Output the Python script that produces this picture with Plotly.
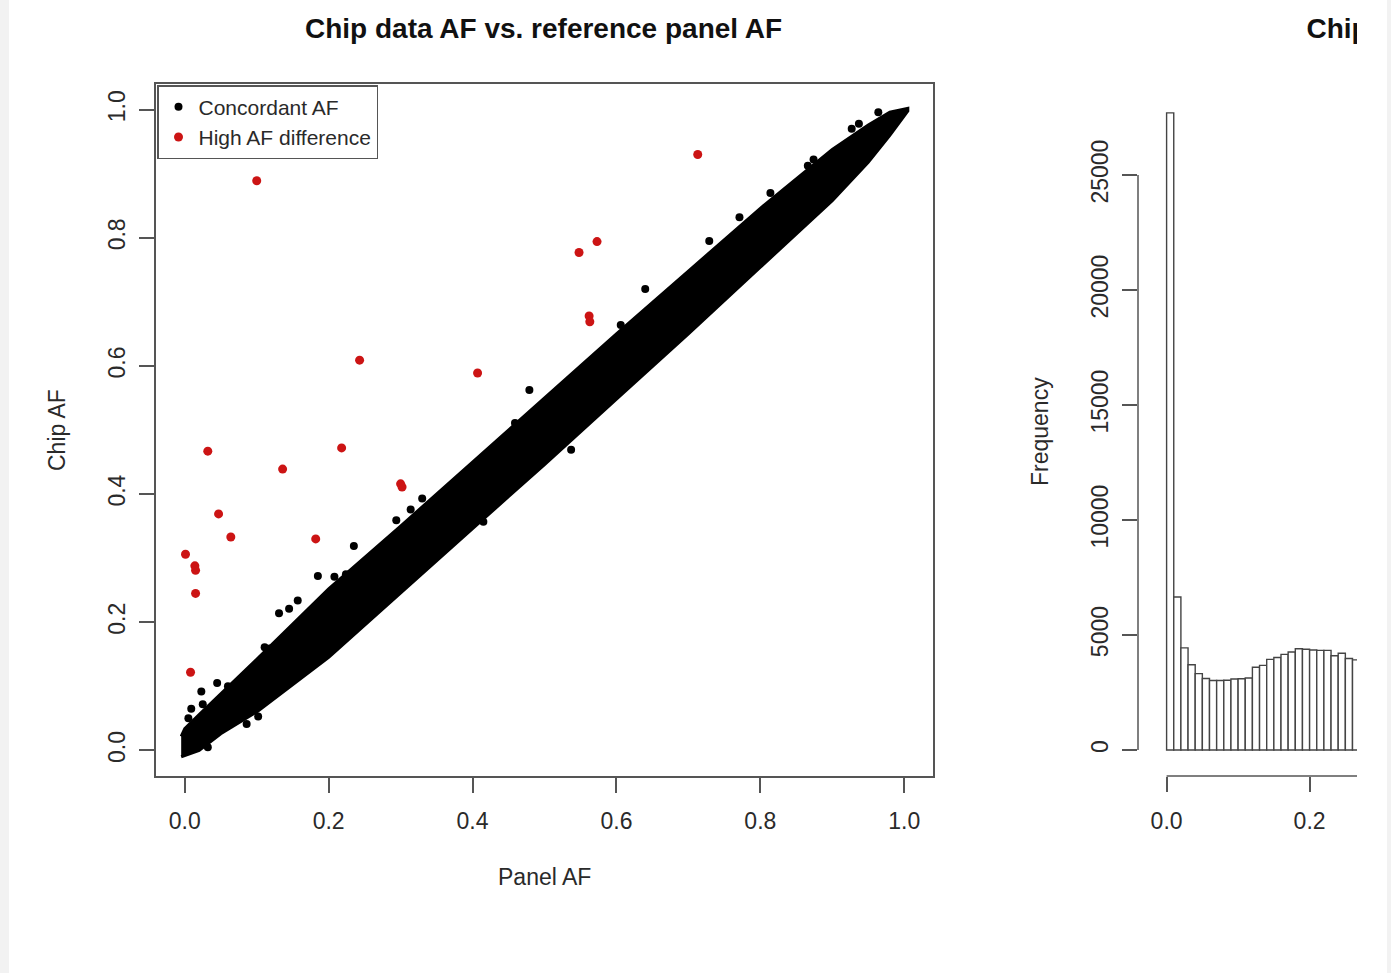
import plotly.graph_objects as go

W, H = 1391, 973

# ---- values ----
# dense "concordant" band along the diagonal: outline (upper edge, lower edge)
band_x = [-0.005, 0.0, 0.02, 0.05, 0.10, 0.20, 0.30, 0.40, 0.50, 0.60, 0.70, 0.80, 0.90, 0.95, 0.98, 1.005]
band_hi = [0.022, 0.034, 0.056, 0.088, 0.142, 0.252, 0.350, 0.450, 0.550, 0.650, 0.748, 0.846, 0.938, 0.976, 0.996, 1.002]
band_lo = [-0.010, -0.009, 0.000, 0.026, 0.060, 0.145, 0.246, 0.346, 0.446, 0.548, 0.650, 0.754, 0.858, 0.918, 0.960, 0.998]

# scattered concordant points outside the dense band
conc_x = [0.330, 0.314, 0.294, 0.235, 0.185, 0.208, 0.224, 0.157, 0.145, 0.131, 0.111, 0.118,
          0.045, 0.060, 0.023, 0.025, 0.009, 0.005, 0.086, 0.102, 0.032, 0.964, 0.927, 0.937,
          0.874, 0.866, 0.814, 0.771, 0.729, 0.640, 0.606, 0.479, 0.459, 0.537, 0.415]
conc_y = [0.393, 0.376, 0.359, 0.319, 0.272, 0.271, 0.275, 0.234, 0.221, 0.214, 0.161, 0.159,
          0.105, 0.100, 0.092, 0.072, 0.065, 0.050, 0.041, 0.053, 0.005, 0.996, 0.970, 0.978,
          0.922, 0.9125, 0.870, 0.832, 0.795, 0.720, 0.664, 0.5625, 0.511, 0.469, 0.357]

# high AF difference points
diff_x = [0.100, 0.713, 0.548, 0.573, 0.562, 0.563, 0.243, 0.407, 0.032, 0.136, 0.218,
          0.300, 0.302, 0.047, 0.064, 0.182, 0.001, 0.014, 0.015, 0.015, 0.008]
diff_y = [0.889, 0.930, 0.777, 0.794, 0.678, 0.669, 0.609, 0.589, 0.467, 0.439, 0.472,
          0.416, 0.411, 0.369, 0.333, 0.330, 0.306, 0.288, 0.281, 0.245, 0.122]

# histogram of chip AF (visible part, 0.01 wide bins)
bin_left = [0.00, 0.01, 0.02, 0.03, 0.04, 0.05, 0.06, 0.07, 0.08, 0.09, 0.10, 0.11, 0.12, 0.13,
            0.14, 0.15, 0.16, 0.17, 0.18, 0.19, 0.20, 0.21, 0.22, 0.23, 0.24, 0.25, 0.26]
counts = [27700, 6650, 4440, 3710, 3320, 3110, 3020, 3020, 3030, 3090, 3100, 3130, 3600, 3680,
          3940, 4020, 4160, 4260, 4400, 4380, 4350, 4330, 4330, 4100, 4210, 3980, 3920]

xticks = [0, 0.2, 0.4, 0.6, 0.8, 1.0]
xtick_text = ["0.0", "0.2", "0.4", "0.6", "0.8", "1.0"]
freq_ticks = [0, 5000, 10000, 15000, 20000, 25000]
freq_text = ["0", "5000", "10000", "15000", "20000", "25000"]

FONT = "Liberation Sans, Arial, sans-serif"
AX = "#555555"
TXT = "#2a2a2a"


def px(x):
    return x / W


def py(y):
    return 1 - y / H


hist_xmax = -0.04 + (1357 - 1138) / 715.0

fig = go.Figure()

fig.add_trace(go.Scatter(
    x=band_x + band_x[::-1], y=band_hi + band_lo[::-1],
    fill="toself", fillcolor="black", mode="lines",
    line=dict(color="black", width=3), showlegend=False, hoverinfo="skip"))
fig.add_trace(go.Scatter(
    x=conc_x, y=conc_y, mode="markers", name="Concordant AF",
    marker=dict(color="black", size=8)))
fig.add_trace(go.Scatter(
    x=diff_x, y=diff_y, mode="markers", name="High AF difference",
    marker=dict(color="#cc1414", size=9)))

fig.add_trace(go.Bar(
    x=bin_left, y=counts, width=0.01, offset=0, xaxis="x2", yaxis="y2",
    marker=dict(color="white", line=dict(color="#444444", width=1.4)),
    showlegend=False))

# title of the second panel, clipped at the edge of the picture like in the original
fig.add_trace(go.Scatter(
    x=[0.1956], y=[0.63], mode="text", text=["<b>Chip</b>"],
    textposition="middle right", textfont=dict(size=28, family=FONT, color="#111"),
    xaxis="x3", yaxis="y3", cliponaxis=True, showlegend=False, hoverinfo="skip"))

tick_common = dict(ticks="outside", ticklen=15, tickwidth=1.5, tickcolor=AX,
                   showgrid=False, zeroline=False,
                   tickfont=dict(size=23, family=FONT, color=TXT))

fig.update_layout(
    width=W, height=H,
    margin=dict(l=0, r=0, t=0, b=0),
    paper_bgcolor="#f2f2f2", plot_bgcolor="white",
    showlegend=True, hovermode=False,
    xaxis=dict(domain=[px(156), px(933)], range=[-0.04, 1.04], anchor="y",
               tickvals=xticks, ticktext=xtick_text, showline=True, mirror=True,
               linecolor=AX, linewidth=1.5, ticklabelstandoff=9, **tick_common),
    yaxis=dict(domain=[py(776), py(84)], range=[-0.04, 1.04], anchor="x",
               tickvals=xticks, ticktext=xtick_text, tickangle=-90, showline=True,
               mirror=True, linecolor=AX, linewidth=1.5, ticklabelstandoff=5,
               **tick_common),
    xaxis2=dict(domain=[px(1138), px(1357)], range=[-0.04, hist_xmax], anchor="y2",
                tickvals=[0, 0.2], ticktext=["0.0", "0.2"], showline=False,
                ticklabelstandoff=9, **tick_common),
    yaxis2=dict(domain=[py(776), py(84)], range=[-1130, 28957], anchor="x2",
                tickvals=freq_ticks, ticktext=freq_text, tickangle=-90, showline=False,
                ticklabelstandoff=5, **tick_common),
    xaxis3=dict(domain=[px(1138), px(1357)], range=[-0.04, hist_xmax], anchor="y3",
                visible=False),
    yaxis3=dict(domain=[py(84), 1], range=[0, 1], anchor="x3", visible=False),
    legend=dict(x=px(157), y=py(85), xanchor="left", yanchor="top",
                bgcolor="white", bordercolor=AX, borderwidth=1.5,
                font=dict(size=21, family=FONT, color=TXT), tracegroupgap=0),
    shapes=[
        dict(type="rect", xref="paper", yref="paper", x0=px(9), x1=px(1387), y0=0, y1=1,
             fillcolor="white", line=dict(width=0), layer="below"),
        # R style axis lines of the histogram (only across the tick range)
        dict(type="line", xref="paper", yref="y2", x0=px(1138), x1=px(1138), y0=0, y1=25000,
             line=dict(color=AX, width=1.5)),
        dict(type="line", xref="x2", yref="paper", x0=0, x1=hist_xmax, y0=py(776), y1=py(776),
             line=dict(color=AX, width=1.5)),
    ],
    annotations=[
        dict(text="<b>Chip data AF vs. reference panel AF</b>", x=px(543), y=py(28),
             xref="paper", yref="paper", xanchor="center", yanchor="middle",
             showarrow=False, font=dict(size=28, family=FONT, color="#111")),
        dict(text="Panel AF", x=px(544), y=py(877), xref="paper", yref="paper",
             xanchor="center", yanchor="middle",
             showarrow=False, font=dict(size=23, family=FONT, color=TXT)),
        dict(text="Chip AF", x=px(57), y=py(430), xref="paper", yref="paper",
             xanchor="center", yanchor="middle",
             showarrow=False, textangle=-90, font=dict(size=23, family=FONT, color=TXT)),
        dict(text="Frequency", x=px(1040), y=py(432), xref="paper", yref="paper",
             xanchor="center", yanchor="middle",
             showarrow=False, textangle=-90, font=dict(size=23, family=FONT, color=TXT)),
    ],
)

fig.write_html("out.html",
               config={"displayModeBar": False},
               post_script="document.body.style.margin='0px';"
                           "document.body.style.overflow='hidden';")
